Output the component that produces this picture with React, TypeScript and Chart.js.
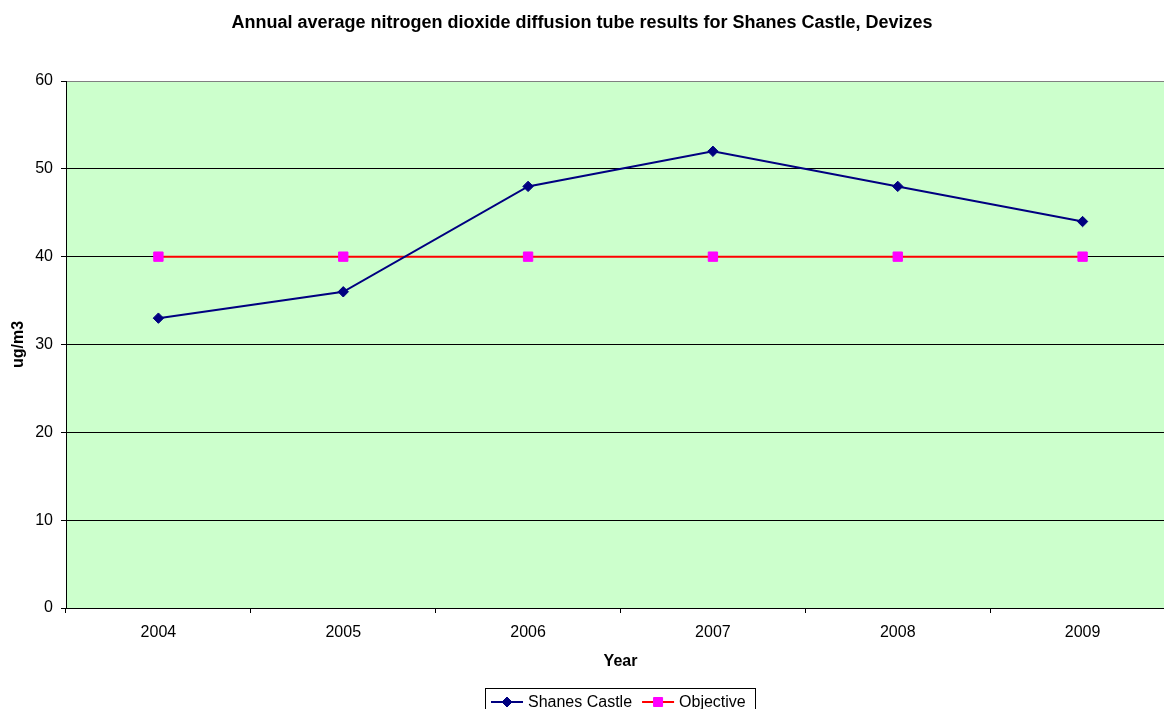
import React, { useEffect, useRef } from "react";
import { Chart, registerables } from "chart.js";

Chart.register(...registerables);

const years = ["2004", "2005", "2006", "2007", "2008", "2009"];
const shanesCastle = [33, 36, 48, 52, 48, 44];
const objective = [40, 40, 40, 40, 40, 40];
const yTicks = [0, 10, 20, 30, 40, 50, 60];

const TITLE = "Annual average nitrogen dioxide diffusion tube results for Shanes Castle, Devizes";
const FONT = "'Liberation Sans', Arial, sans-serif";

const backgroundPlugin = {
  id: "plotBg",
  beforeDraw(chart: any) {
    const { ctx, chartArea } = chart;
    ctx.save();
    ctx.fillStyle = "#CCFFCC";
    ctx.fillRect(chartArea.left, chartArea.top, chartArea.right - chartArea.left, chartArea.bottom - chartArea.top);
    ctx.restore();
  },
};

const titlePlugin = {
  id: "customTitle",
  afterDraw(chart: any) {
    const { ctx } = chart;
    ctx.save();
    ctx.font = `bold 18px ${FONT}`;
    ctx.fillStyle = "#000";
    ctx.textAlign = "center";
    ctx.textBaseline = "alphabetic";
    ctx.fillText(TITLE, 582, 28);
    ctx.restore();
  },
};

function drawMarker(ctx: CanvasRenderingContext2D, style: string, x: number, y: number, color: string) {
  ctx.fillStyle = color;
  ctx.strokeStyle = color;
  ctx.lineWidth = 1;
  ctx.beginPath();
  if (style === "rectRot") {
    const r = 5;
    ctx.moveTo(x - r, y);
    ctx.lineTo(x, y - r);
    ctx.lineTo(x + r, y);
    ctx.lineTo(x, y + r);
    ctx.closePath();
  } else {
    const s = 4.5;
    ctx.rect(x - s, y - s, 2 * s, 2 * s);
  }
  ctx.fill();
  ctx.stroke();
}

const legendPlugin = {
  id: "boxedLegend",
  afterDraw(chart: any) {
    const { ctx } = chart;
    const boxLeft = 485;
    const boxTop = 688;
    const boxWidth = 270;
    const boxHeight = 28;
    ctx.save();
    ctx.strokeStyle = "#000";
    ctx.lineWidth = 1;
    ctx.strokeRect(boxLeft + 0.5, boxTop + 0.5, boxWidth, boxHeight);
    ctx.font = `16px ${FONT}`;
    ctx.textAlign = "left";
    ctx.textBaseline = "alphabetic";
    let x = boxLeft + 6;
    const cy = 702;
    chart.data.datasets.forEach((ds: any) => {
      ctx.strokeStyle = ds.borderColor;
      ctx.lineWidth = 2;
      ctx.beginPath();
      ctx.moveTo(x, cy);
      ctx.lineTo(x + 32, cy);
      ctx.stroke();
      drawMarker(ctx, ds.pointStyle, x + 16, cy, ds.pointBackgroundColor);
      ctx.fillStyle = "#000";
      ctx.fillText(ds.label, x + 37, 707);
      x += 37 + ctx.measureText(ds.label).width + 10;
    });
    ctx.restore();
  },
};

export default function App() {
  const canvasRef = useRef<HTMLCanvasElement | null>(null);

  useEffect(() => {
    if (!canvasRef.current) return;
    const chart = new Chart(canvasRef.current, {
      type: "line",
      data: {
        labels: years,
        datasets: [
          {
            label: "Shanes Castle",
            data: shanesCastle,
            borderColor: "#000080",
            backgroundColor: "#000080",
            pointBackgroundColor: "#000080",
            pointBorderColor: "#000080",
            pointStyle: "rectRot",
            pointRadius: 5.2,
            pointBorderWidth: 1,
            borderWidth: 2,
            tension: 0,
          },
          {
            label: "Objective",
            data: objective,
            borderColor: "#FF0000",
            backgroundColor: "#FF00FF",
            pointBackgroundColor: "#FF00FF",
            pointBorderColor: "#FF00FF",
            pointStyle: "rect",
            pointRadius: 6.6,
            pointBorderWidth: 1,
            borderWidth: 2,
            tension: 0,
          },
        ],
      },
      options: {
        responsive: false,
        animation: false,
        devicePixelRatio: 1,
        layout: { padding: { top: 81, right: 65, bottom: 50, left: 0 } },
        plugins: {
          legend: { display: false },
          title: { display: false },
          tooltip: { enabled: false },
        },
        scales: {
          x: {
            type: "category",
            offset: true,
            grid: {
              offset: true,
              drawOnChartArea: false,
              drawTicks: true,
              tickLength: 5,
              tickColor: "#000",
            },
            border: { color: "#000", width: 1 },
            ticks: { color: "#000", font: { family: FONT, size: 16 }, padding: 10, maxRotation: 0 },
            title: {
              display: true,
              text: "Year",
              color: "#000",
              font: { family: FONT, size: 16, weight: "bold" },
              padding: { top: 0, bottom: 9 },
            },
            afterFit: (scale: any) => {
              scale.height = 72;
            },
          },
          y: {
            min: 0,
            max: 60,
            afterBuildTicks: (scale: any) => {
              scale.ticks = yTicks.map((v) => ({ value: v }));
            },
            grid: {
              color: (c: any) => (c.tick && c.tick.value === 60 ? "#808080" : "#000000"),
              tickColor: "#000",
              tickLength: 5,
              lineWidth: 1,
            },
            border: { color: "#000", width: 1 },
            ticks: { color: "#000", font: { family: FONT, size: 16 }, padding: 8 },
            title: {
              display: true,
              text: "ug/m3",
              color: "#000",
              font: { family: FONT, size: 16, weight: "bold" },
              padding: { top: 9, bottom: 0 },
            },
            afterFit: (scale: any) => {
              scale.width = 66;
            },
          },
        },
      } as any,
      plugins: [backgroundPlugin, titlePlugin, legendPlugin],
    });
    return () => chart.destroy();
  }, []);

  return (
    <div style={{ position: "absolute", left: 0, top: 0, width: 1164, height: 709, overflow: "hidden", background: "#fff" }}>
      <canvas ref={canvasRef} width={1240} height={730} style={{ display: "block", width: 1240, height: 730 }} />
    </div>
  );
}
